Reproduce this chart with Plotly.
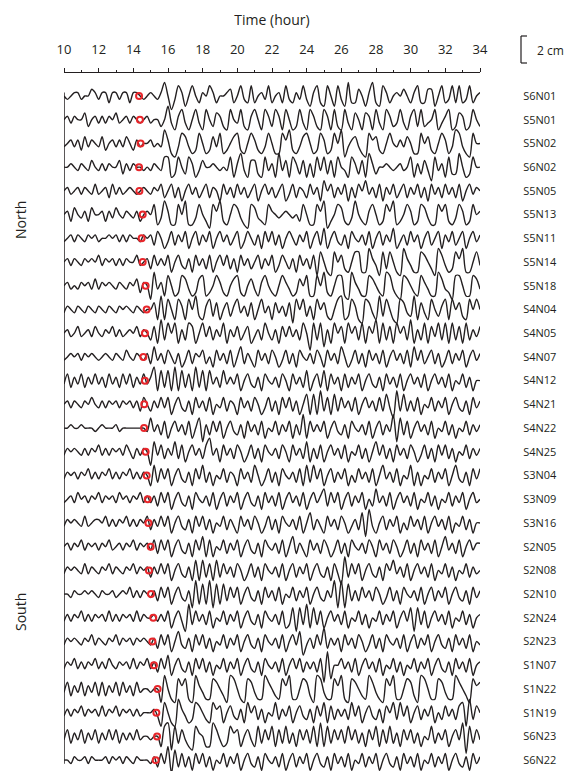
import plotly.graph_objects as go

# ---------------- data ----------------
stations = ["S6N01", "S5N01", "S5N02", "S6N02", "S5N05", "S5N13", "S5N11",
            "S5N14", "S5N18", "S4N04", "S4N05", "S4N07", "S4N12", "S4N21",
            "S4N22", "S4N25", "S3N04", "S3N09", "S3N16", "S2N05", "S2N08",
            "S2N10", "S2N24", "S2N23", "S1N07", "S1N22", "S1N19", "S6N23",
            "S6N22"]

# red circles: picked arrival time (hour)
pick_hours = [14.33, 14.38, 14.42, 14.33, 14.35, 14.54, 14.48,
              14.54, 14.71, 14.77, 14.67, 14.58, 14.67, 14.63,
              14.62, 14.71, 14.77, 14.83, 14.87, 15.00, 14.90,
              15.02, 15.15, 15.10, 15.19, 15.40, 15.33, 15.37,
              15.29]

t_start = 10.0     # hour
t_step = 0.2       # hour between samples
# displacement samples, one digit per sample: value = digit - 5 (units of ~0.2 cm)
# groups of five = one hour (10h ... 33h), last digit = 34h
waves = [
    "54566 45576 46636 64663 66545 65469 51486 25853 65863 55673 58438 35648 35638 43648 42683 28528 42933 75269 32863 56575 36833 77258 34838 34835 6",
    "56465 57356 46465 74564 65456 45535 94268 42584 28537 63285 48326 85286 38628 52384 28632 86283 28427 52762 84286 34842 68383 45824 68237 62385 3",
    "45646 37465 47356 46475 36455 64549 62148 74238 52374 82357 83258 63248 52286 93247 85238 62385 91467 42186 73258 54647 52285 73258 62498 42185 5",
    "55654 65475 46465 57364 65545 46548 82385 38624 75565 45482 69427 73284 62947 28637 26284 83728 54286 37296 35565 45645 82637 41846 28339 52385 5",
    "56456 46547 45637 46456 54565 46573 57362 57463 57365 27463 74635 72574 63572 47365 37462 85736 47263 75846 37264 73573 64736 27463 74637 25746 5",
    "56375 46375 56364 75465 46356 58249 62285 92248 53186 93258 74218 74328 65456 54538 52286 91358 73249 53268 52386 92358 62387 42286 83248 62385 6",
    "45646 54656 45565 64646 55465 63752 47364 72573 64725 74635 72475 36274 73625 75364 72573 82574 36275 46372 57364 82463 74625 73572 64735 72574 6",
    "56465 46565 74656 46465 57456 37464 72574 36274 63725 74736 27463 57364 72475 36274 63718 52185 73258 82296 41838 52196 42287 53197 42386 92258 4",
    "56454 65647 46565 46546 57365 19462 85238 74237 82358 63257 83257 42685 32586 42375 82285 93258 82196 42287 53298 42187 53286 42297 43188 52287 4",
    "46546 54654 65465 46565 46545 57292 85286 28593 26837 25736 84637 25846 27463 71858 36285 73258 92386 21874 29385 21874 39274 28536 82857 32858 5",
    "56457 45647 54657 46456 57465 37293 85826 38725 84736 48264 73572 46385 36274 74638 50838 16285 72857 38275 92837 28573 92638 27483 82837 28364 7",
    "45656 46565 45654 65475 46546 38463 75362 47365 73527 46372 58364 27463 75247 36275 46375 27463 85247 36274 63725 74637 28473 57362 47364 72574 6",
    "47364 73647 46374 63747 36474 69283 82928 37293 82846 38464 72574 36275 46375 27463 82573 82746 27364 72574 36274 63725 74637 25746 37254 73625 5",
    "56465 46575 46465 64656 46375 36474 72574 36274 63725 47365 27463 75247 36274 73625 82829 37283 74637 25746 37384 19383 63725 47364 72574 36274 6",
    "55655 65554 56555 64555 55554 84637 25746 37258 16374 72574 36274 63725 47364 72639 27464 72574 36275 46372 57364 91837 25746 37254 73625 47364 6",
    "46565 46465 74646 56475 36465 18473 64837 25746 37946 27463 75247 36275 46375 27463 82637 25746 37254 73625 84736 27463 75247 36274 73625 47364 6",
    "46564 65746 46574 64657 46465 28374 72574 36274 83625 47365 27463 85247 36275 46372 83847 25736 47253 74637 25846 37254 82625 47364 72584 36274 7",
    "45647 56465 74656 47564 65746 46374 72574 36275 46372 57364 72574 36274 63725 74637 25746 83747 25736 47253 84637 25746 37254 73625 47364 72574 5",
    "46565 47456 65746 46574 64657 36474 72574 36274 73625 47364 27463 75247 36275 46372 58364 27463 75246 38194 25736 47253 74637 25746 37254 73625 5",
    "56465 74656 46574 56465 74656 47374 72574 36274 82725 47364 72574 36275 46372 58364 27463 75247 36275 46375 27463 75247 36274 63725 84637 25746 6",
    "46565 47465 46574 65465 74656 36474 72574 36282 83728 37463 75247 36275 46372 57364 72574 36274 19374 72574 36275 84637 25746 37254 73625 47364 5",
    "55465 56565 46556 45657 46465 46374 72574 36192 82918 28374 72574 36274 63725 47364 72574 36491 91836 37463 75247 36275 46372 57364 72574 36274 6",
    "46465 74646 56474 64656 47465 56464 72574 19374 63725 47364 72574 36275 46372 38183 92837 25746 37254 73625 47364 72574 81837 25746 37254 73625 6",
    "46565 46574 65465 74656 46565 46374 72584 36274 73625 47364 72574 36275 46372 57481 46374 93646 27463 75247 36275 46372 57364 72574 36274 63725 4",
    "46574 64657 46475 46564 74657 46374 82574 36274 73625 47364 72574 36275 46372 57473 64637 09155 74637 25746 37254 73625 47364 72574 36274 63725 6",
    "47364 73647 37364 73746 37455 45519 52186 82196 42287 53198 52187 42297 53286 92258 73198 42286 92187 53297 42186 92258 73198 52287 42297 53186 7",
    "46465 74656 47465 74656 46455 56418 52196 42387 53286 72574 36285 73625 48364 72574 36274 82736 46384 72574 36275 83847 25736 47253 74637 81937 5",
    "47364 73647 36474 73646 47455 45528 91837 42186 52297 42386 72574 28374 82738 36274 73829 28374 73847 36274 82738 36274 73625 48364 72574 90837 4",
    "55465 56465 55646 56465 46555 46374 91837 36274 73625 47364 72574 36275 46372 57364 72574 36274 63725 47364 72574 36274 63725 47364 72574 36274 6",
]

# ---------------- layout constants ----------------
W, H = 586, 771
OFF = 8             # page body margin: the figure is drawn 8 px right/down
ML = 64 - OFF       # plot left edge lands at screen x = 64
PW = 416            # 10 h .. 34 h spans screen x 64 .. 480
MR = W - ML - PW
BASE0 = 96.0 - OFF  # first baseline at screen y = 96
SPACING = 23.72     # pixels between baselines
UNIT_PX = 3.4       # pixels per amplitude unit
k = UNIT_PX / SPACING
y_top = -BASE0 / SPACING
y_bot = (H - BASE0) / SPACING
AXIS_Y = 72         # screen y of the time ruler

INK = "#231f20"
RED = "#e8262b"
FONT = "Open Sans"


def px(x):          # screen x -> paper
    return (x - OFF - ML) / PW


def py(y):          # screen y -> paper
    return 1 - (y - OFF) / H


fig = go.Figure()

for i, w in enumerate(waves):
    s = w.replace(" ", "")
    xs = [t_start + t_step * j for j in range(len(s))]
    ys = [i - (int(c) - 5) * k for c in s]
    fig.add_trace(go.Scatter(x=xs, y=ys, mode="lines",
                             line=dict(color=INK, width=1.4, shape="spline", smoothing=0.8),
                             hoverinfo="skip", showlegend=False))

fig.add_trace(go.Scatter(x=pick_hours, y=list(range(len(stations))), mode="markers",
                         marker=dict(symbol="circle-open", size=6, color=RED,
                                     line=dict(width=2, color=RED)),
                         showlegend=False, hoverinfo="skip"))

fig.update_layout(
    width=W, height=H,
    margin=dict(l=ML, r=MR, t=0, b=0),
    paper_bgcolor="white", plot_bgcolor="white",
    font=dict(family=FONT, color=INK),
    xaxis=dict(range=[10, 34], anchor="free", position=py(AXIS_Y), side="top",
               automargin=False,
               showline=True, linecolor=INK, linewidth=1,
               ticks="outside", ticklen=4, tickwidth=1, tickcolor=INK,
               ticklabelstandoff=9,
               tick0=10, dtick=2,
               minor=dict(dtick=1, ticks="outside", ticklen=2, tickcolor=INK),
               showgrid=False, zeroline=False,
               tickfont=dict(size=13, family=FONT, color=INK),
               title=dict(text="Time (hour)", font=dict(size=14, family=FONT, color=INK),
                          standoff=9)),
    yaxis=dict(range=[y_bot, y_top], side="right", automargin=False,
               tickvals=list(range(len(stations))), ticktext=stations,
               ticks="outside", ticklen=40, tickcolor="rgba(0,0,0,0)",
               showline=False, showgrid=False, zeroline=False,
               tickfont=dict(size=11, family=FONT, color=INK)),
)

# left vertical line where traces start
fig.add_shape(type="line", xref="x", yref="y", x0=10, x1=10, y0=-0.15, y1=28.15,
              line=dict(color=INK, width=1.5))

# scale bar (2 cm)
bx, b0, b1 = 521, 36, 63
for (xa, ya, xb, yb) in [(bx, b0, bx, b1), (bx, b0, bx + 6, b0), (bx, b1, bx + 6, b1)]:
    fig.add_shape(type="line", xref="paper", yref="paper",
                  x0=px(xa), x1=px(xb), y0=py(ya), y1=py(yb),
                  line=dict(color=INK, width=1.2))
fig.add_annotation(xref="paper", yref="paper", x=px(535), y=py(50), text="2 cm",
                   showarrow=False, xanchor="left", yanchor="middle",
                   font=dict(size=12, family=FONT, color=INK))

for label, yc in [("North", 220), ("South", 612)]:
    fig.add_annotation(xref="paper", yref="paper", x=px(20), y=py(yc), text=label,
                       showarrow=False, textangle=-90, xanchor="center", yanchor="middle",
                       font=dict(size=14, family=FONT, color=INK))

fig.write_html("out.html")
